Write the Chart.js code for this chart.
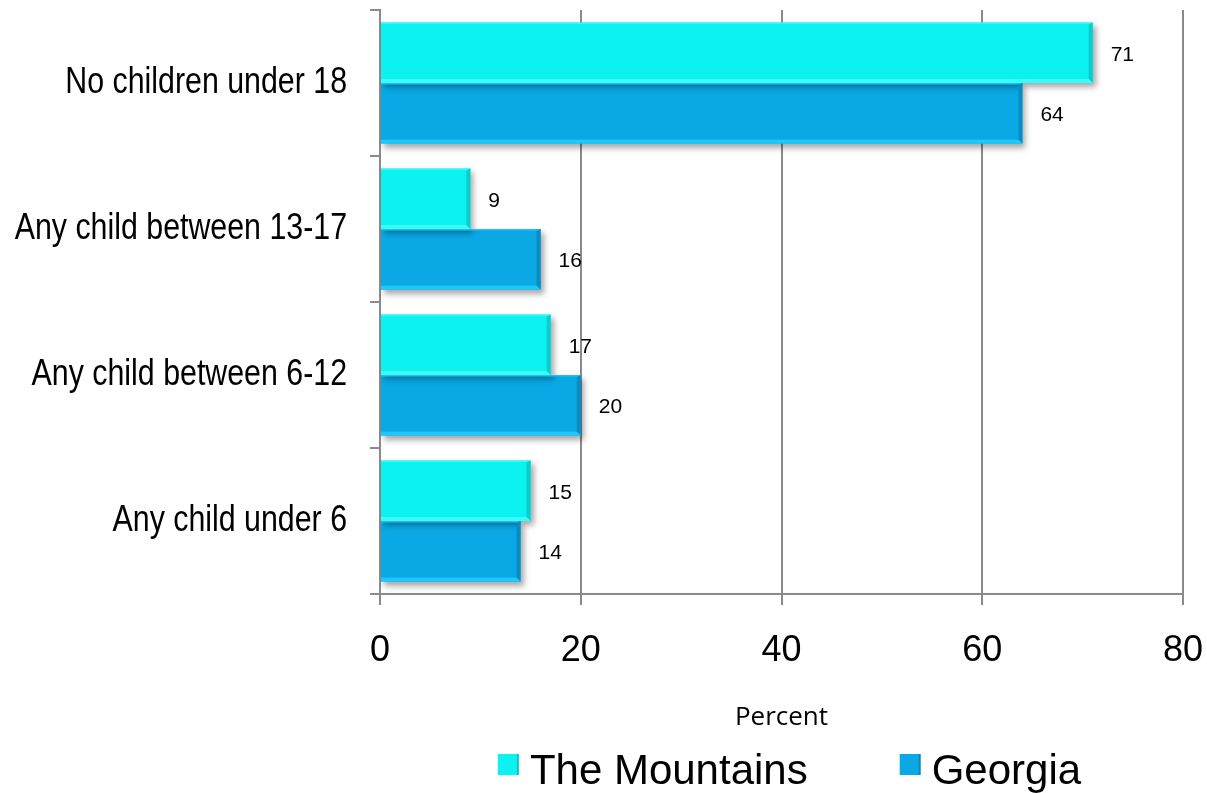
<!DOCTYPE html>
<html>
<head>
<meta charset="utf-8">
<title>Children in household</title>
<script src="https://cdn.jsdelivr.net/npm/chart.js@4.4.1/dist/chart.umd.min.js"></script>
<style>
  body { margin: 0; background: #fff; }
  #wrap { width: 1207px; height: 793px; position: relative; }
</style>
</head>
<body>
<div id="wrap"><canvas id="grafico"></canvas></div>
<script>
// ---------------- datos ----------------
const categorias = [
  "No children under 18",
  "Any child between 13-17",
  "Any child between 6-12",
  "Any child under 6",
];
const montanas = [71, 9, 17, 15];
const georgia = [64, 16, 20, 14];
const ticksX = [0, 20, 40, 60, 80];

const colorMontanas = "rgb(12, 242, 240)";
const colorGeorgia = "rgb(10, 168, 228)";
const gris = "#8a8a8a";
const fuente = "'Liberation Sans', Arial, sans-serif";

// ---------------- plugins ----------------

// sombra bajo las barras + bisel (borde derecho oscuro, borde inferior claro)
const biselBarras = {
  id: "biselBarras",
  beforeDatasetsDraw(chart) {
    const ctx = chart.ctx;
    ctx.save();
    ctx.shadowColor = "rgba(0,0,0,0.35)";
    ctx.shadowBlur = 6;
    ctx.shadowOffsetX = 3;
    ctx.shadowOffsetY = 4;
  },
  afterDatasetsDraw(chart) {
    const ctx = chart.ctx;
    ctx.restore();
    const biseles = [
      { derecha: "rgb(10, 205, 205)", abajo: "rgb(60, 250, 250)", arriba: "rgb(60, 248, 248)" },
      { derecha: "rgb(8, 140, 195)", abajo: "rgb(30, 200, 250)", arriba: "rgb(35, 190, 245)" },
    ];
    chart.data.datasets.forEach((ds, i) => {
      const meta = chart.getDatasetMeta(i);
      const b = biseles[i];
      meta.data.forEach((bar) => {
        const top = bar.y - bar.height / 2;
        const bottom = bar.y + bar.height / 2;
        ctx.fillStyle = b.arriba;
        ctx.fillRect(bar.base, top, bar.x - bar.base, 1.5);
        ctx.fillStyle = b.abajo;
        ctx.fillRect(bar.base, bottom - 4, bar.x - bar.base, 4);
        ctx.fillStyle = b.derecha;
        ctx.beginPath();
        ctx.moveTo(bar.x, top);
        ctx.lineTo(bar.x, bottom);
        ctx.lineTo(bar.x - 4, bottom - 4);
        ctx.lineTo(bar.x - 4, top + 2);
        ctx.closePath();
        ctx.fill();
      });
    });
  },
};

// etiquetas de categoria del eje Y, en letra estrecha
const etiquetasY = {
  id: "etiquetasY",
  afterDraw(chart) {
    const ctx = chart.ctx;
    const escala = chart.scales.y;
    const derecha = escala.right - 10 - 23;
    ctx.save();
    ctx.font = "37px " + fuente;
    ctx.fillStyle = "#000";
    ctx.textAlign = "right";
    ctx.textBaseline = "middle";
    chart.data.labels.forEach((texto, i) => {
      const y = escala.getPixelForTick(i);
      ctx.save();
      ctx.translate(derecha, y);
      ctx.scale(0.82, 1);
      ctx.fillText(texto, 0, 0);
      ctx.restore();
    });
    ctx.restore();
  },
};

// etiquetas con el valor a la derecha de cada barra
const etiquetasValor = {
  id: "etiquetasValor",
  afterDraw(chart) {
    const ctx = chart.ctx;
    ctx.save();
    ctx.font = "21px " + fuente;
    ctx.fillStyle = "#000";
    ctx.textAlign = "left";
    ctx.textBaseline = "middle";
    chart.data.datasets.forEach((ds, i) => {
      chart.getDatasetMeta(i).data.forEach((bar, j) => {
        ctx.fillText(ds.data[j], bar.x + 18, bar.y + 2);
      });
    });
    ctx.restore();
  },
};

// leyenda dibujada a mano debajo del titulo del eje
const leyenda = {
  id: "leyenda",
  afterDraw(chart) {
    const ctx = chart.ctx;
    const caja = 21, hueco = 11, separacion = 92;
    ctx.save();
    ctx.font = "42px " + fuente;
    ctx.textBaseline = "alphabetic";
    const items = chart.data.datasets.map((ds) => ({
      texto: ds.label,
      color: ds.backgroundColor,
      ancho: ctx.measureText(ds.label).width,
    }));
    let total = 0;
    items.forEach((it, i) => {
      total += caja + hueco + it.ancho + (i > 0 ? separacion : 0);
    });
    const area = chart.chartArea;
    let x = (area.left + area.right) / 2 + 8 - total / 2;
    const yCaja = 754;
    items.forEach((it) => {
      ctx.fillStyle = it.color;
      ctx.fillRect(x, yCaja, caja, caja);
      ctx.fillStyle = "rgba(0,0,0,0.18)";
      ctx.fillRect(x + caja - 2, yCaja, 2, caja);
      ctx.fillStyle = "#000";
      ctx.fillText(it.texto, x + caja + hueco, 784);
      x += caja + hueco + it.ancho + separacion;
    });
    ctx.restore();
  },
};

// ---------------- grafico ----------------
const ctxGrafico = document.getElementById("grafico").getContext("2d");
const grafico = new Chart(ctxGrafico, {
  type: "bar",
  data: {
    labels: categorias,
    datasets: [
      {
        label: "The Mountains",
        data: montanas,
        backgroundColor: colorMontanas,
        borderWidth: 0,
      },
      {
        label: "Georgia",
        data: georgia,
        backgroundColor: colorGeorgia,
        borderWidth: 0,
      },
    ],
  },
  options: {
    indexAxis: "y",
    responsive: true,
    maintainAspectRatio: false,
    animation: false,
    categoryPercentage: 0.83,
    barPercentage: 1.0,
    layout: { padding: { top: 10, right: 24, bottom: 55, left: 0 } },
    plugins: {
      legend: { display: false },
      tooltip: { enabled: false },
    },
    scales: {
      x: {
        min: 0,
        max: 80,
        afterBuildTicks(scale) {
          scale.ticks = ticksX.map((v) => ({ value: v }));
        },
        afterFit(scale) {
          scale.height = 144;
          scale.paddingLeft = 0;
          scale.paddingRight = 0;
        },
        grid: {
          color: gris,
          lineWidth: 2,
          tickLength: 11,
        },
        border: { color: gris, width: 2 },
        ticks: {
          color: "#000",
          padding: 24,
          font: { family: fuente, size: 36 },
        },
        title: {
          display: true,
          text: "Percent",
          color: "#000",
          font: { family: "'Open Sans', sans-serif", size: 26 },
          padding: { top: 0, bottom: 5 },
        },
      },
      y: {
        afterFit(scale) {
          scale.width = 380;
          scale.paddingTop = 0;
          scale.paddingBottom = 0;
        },
        grid: {
          drawOnChartArea: false,
          color: gris,
          lineWidth: 2,
          tickLength: 10,
        },
        border: { color: gris, width: 2 },
        ticks: { display: false },
      },
    },
  },
  plugins: [biselBarras, etiquetasY, etiquetasValor, leyenda],
});
</script>
</body>
</html>
